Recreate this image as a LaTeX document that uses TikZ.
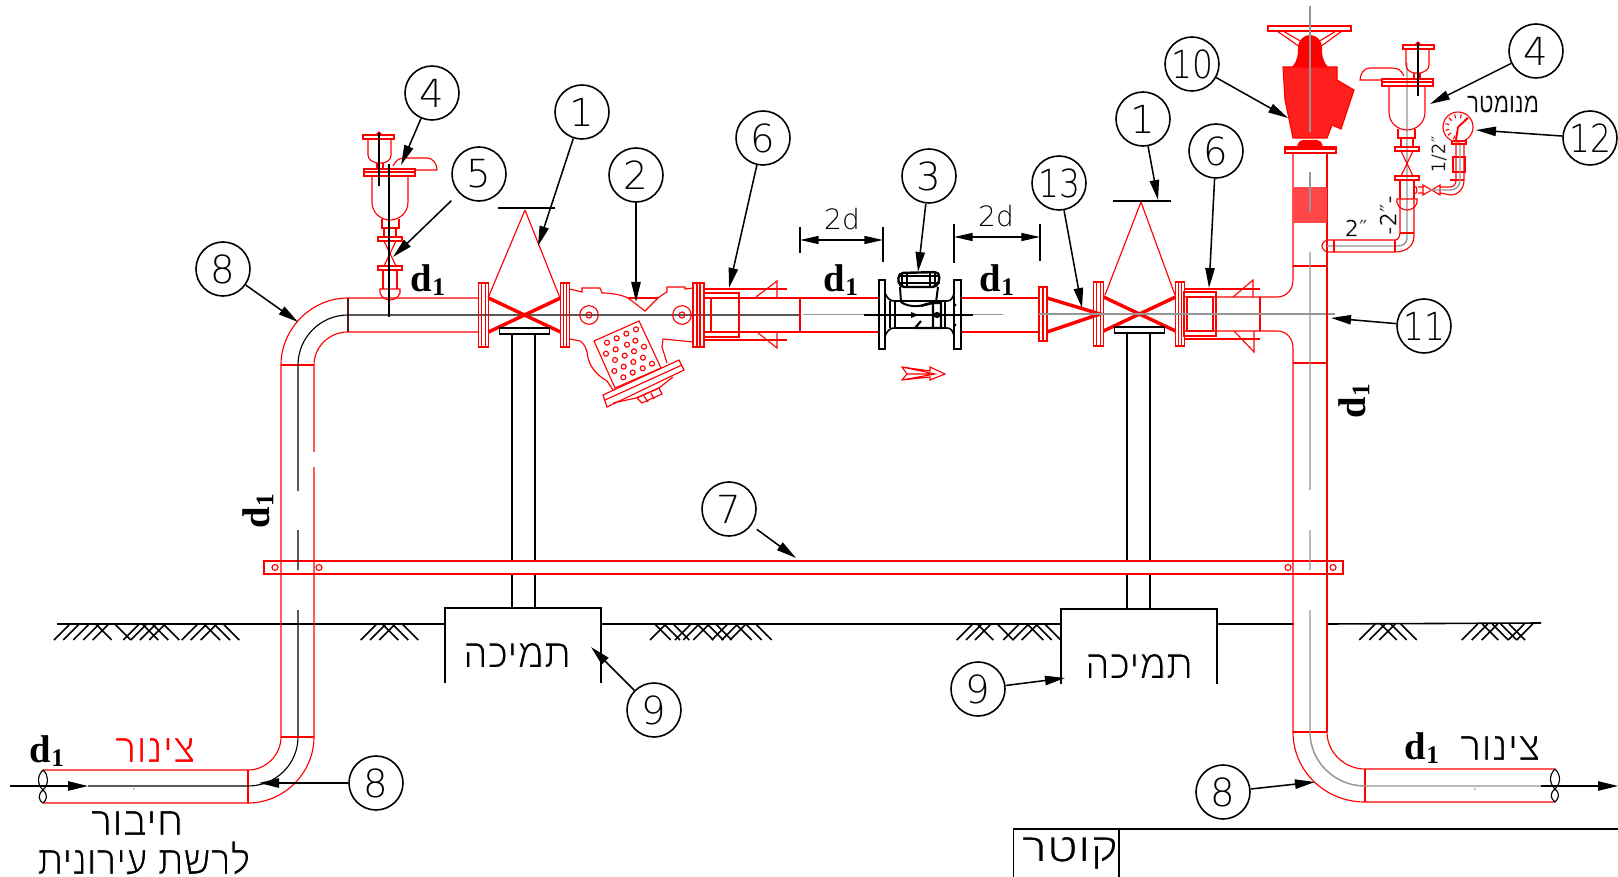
\documentclass[tikz,border=0pt]{standalone}
\usepackage{graphicx}
\usepackage{fontspec}
\usetikzlibrary{arrows.meta}
\TeXXeTstate=1
\setmainfont{Liberation Sans}
\newfontfamily\cadf[UprightFont=* ExtraLight]{DejaVu Sans}
\newfontfamily\primef{DejaVu Sans}
\newfontfamily\hebf[Script=Hebrew]{Liberation Sans}
\newfontfamily\dfont[UprightFont=* Bold]{Liberation Serif}
\newcommand\hebtext[3]{\scalebox{#2}[1]{\special{pdf:code q 2 Tr 1 1 1 RG 0.75 w}{\fontsize{#1}{#1}\hebf #3}\special{pdf:code Q}}}
\newcommand\hebsmall[3]{\scalebox{#2}[1]{\special{pdf:code q 2 Tr 1 1 1 RG 0.25 w}{\fontsize{#1}{#1}\hebf #3}\special{pdf:code Q}}}
\newcommand\sizetext[2]{\special{pdf:code q 2 Tr 1 1 1 RG 0.25 w}{\fontsize{#1}{#1}\primef #2}\special{pdf:code Q}}
\newcommand\dlabel{{\fontsize{29}{29}\dfont d\raisebox{-3pt}{\fontsize{19}{19}\selectfont 1}}}
\newcommand\ghatch[3]{%
  \foreach \z in {#2} {\draw[bk] ({#1+\z/3+16},624)--({#1+\z/3},640);}
  \foreach \z in {#3} {\draw[bk] ({#1+\z/3-16},624)--({#1+\z/3},640);}
}
\definecolor{rdc}{RGB}{255,0,0}
\definecolor{gyc}{RGB}{150,150,150}
\definecolor{weldc}{RGB}{90,25,25}
\tikzset{
  rd/.style={draw=rdc,line width=0.85pt},
  rdt/.style={draw=rdc,line width=2.6pt},
  bk/.style={draw=black,line width=1.2pt},
  thinb/.style={draw=black,line width=0.85pt},
  gy/.style={draw=gyc,line width=1.1pt},
  lead/.style={draw=black,line width=1.15pt,-{Triangle[length=15pt,width=7pt]}},
  dima/.style={draw=black,line width=1.1pt,{Triangle[length=14pt,width=6pt]}-{Triangle[length=14pt,width=6pt]}},
  numc/.style={circle,draw=black,line width=1.2pt,minimum size=40.5pt,inner sep=0pt,font=\fontsize{29}{29}\cadf},
  cadt/.style={inner sep=0pt,font=\cadf},
  airvalve/.pic={
    \draw[rd] (-27,-34) rectangle (4,-30);
    \draw[rd] (-14,-34) -- (-11,-37) -- (-8,-34);
    \draw[rd] (-22,-30) -- (-22,-14) .. controls (-22,-9) and (-17,-7) .. (-13,-6) -- (-7,-6) .. controls (-3,-7) and (1,-9) .. (1,-14) -- (1,-30);
    \draw[rd] (-13,-6) -- (-13,0) (-7,-6) -- (-7,0);
    \draw[rd] (-26,0) rectangle (25,7) (-26,3) -- (25,3);
    \draw[rd] (3,-3) .. controls (6,-9) and (9,-11) .. (15,-11) -- (37,-11) .. controls (43,-11) and (47,-5) .. (47,1) -- (25,1);
    \draw[rd] (-18,7) -- (-18,33) .. controls (-18,45) and (-8,51) .. (0,51) .. controls (8,51) and (18,45) .. (18,33) -- (18,7);
    \draw[rd] (-8,50) -- (-8,59) -- (9,59) -- (9,50);
    \draw[rd] (-6,59) -- (-6,68) (6,59) -- (6,68);
    \draw[rd] (-12,68) rectangle (12,72);
    \draw[rd] (-6,72) -- (6,97) (6,72) -- (-6,97);
    \draw[rd] (-12,97) rectangle (12,101);
    \draw[rd] (-7,101) -- (-7,120) (7,101) -- (7,120);
    \draw[rd] (-10,120) -- (10,120) -- (10,124) .. controls (8,129) and (4,131) .. (0,131) .. controls (-4,131) and (-8,129) .. (-10,124) -- cycle;
    \draw[thinb] (-11,-36) -- (-11,17);
  },
  gatevalve/.pic={
    \draw[rd] (-46,-32) rectangle (-36,32) (-43,-32) -- (-43,32) (-39,-32) -- (-39,32);
    \draw[rd] (36,-32) rectangle (45,32) (39,-32) -- (39,32) (42,-32) -- (42,32);
    \draw[rdt] (-36,-17) -- (36,17) (-36,17) -- (36,-17);
    \draw[bk] (-25,13) rectangle (25,19);
  }
}
\begin{document}
\begin{tikzpicture}[x=0.75pt,y=-0.75pt]
\useasboundingbox (0,0) rectangle (1618,877);
\fill[white] (0,0) rectangle (1618,877);

% free ends of the leaders and dimension lines
\foreach \n/\px/\py in {t4a/401/165,t1a/538/246,t5/393/257,t2/636/302,t6a/729/288,t8a/298/322,t3/918/272,t13/1082/308,t1b/1158/200,t6b/1209/288,t10/1288/118,t4b/1430/104,t12/1476/130,t11/1331/318,t7/796/558,t9a/591/647,t9b/1065/678,t8b/259/783,t8c/1315/782,inl/10/786,inr/88/786,outl/1541/786,outr/1618/786,dal/800/240,dar/883/240,dbl/954/237,dbr/1040/237}
  {\coordinate (\n) at (\px,\py);}

% ground
\draw[bk] (57,624) -- (445,624) (601,624) -- (1061,624) (1217,624) -- (1294,624) (1327,624) -- (1541,623);
\ghatch{40}{42,70,100,130,158,250,272,300,328,425,452,482}{215,272,355,385,418,540,570,598}
\ghatch{40}{962,990,1018}{1075,1105,1135}
\ghatch{640}{30,105,130,160,215,245,270}{92,120,148,220,250,275,335,365,395}
\ghatch{640}{950,978,1005,1090,1118,1145}{1060,1120,1210,1235,1262}
\ghatch{1350}{28,58,88,335,365,395,475,500}{140,170,200,445,475,500,525}

% supports
\draw[bk] (512,334) -- (512,608) (535,334) -- (535,608);
\draw[bk] (1127,333) -- (1127,609) (1150,333) -- (1150,609);
\draw[bk] (445,683) -- (445,608) -- (601,608) -- (601,683);
\draw[bk] (1061,684) -- (1061,609) -- (1217,609) -- (1217,684);
\node[inner sep=0pt] (box1) at (517,655) {\hebtext{31}{0.94}{\beginR תמיכה\endR}};
\node[inner sep=0pt] (box2) at (1139,666) {\hebtext{31}{0.94}{\beginR תמיכה\endR}};

% band
\draw[rd,fill=white] (264,561) rectangle (1343,574);
\foreach \hx in {275,319,1288,1333} {\draw[rd] (\hx,567.5) circle (3);}

% left pipe
\draw[rd] (281,737) -- (281,365) .. controls (281,329) and (311,298) .. (348,298) -- (478,298);
\draw[rd] (314,737) -- (314,467) (314,452) -- (314,365) .. controls (314,347) and (329,332) .. (348,332) -- (478,332);
\draw[rd] (281,365) -- (314,365);
\draw[draw=weldc,line width=1.1pt] (348,298) -- (348,332);
\draw[thinb] (298,737) -- (298,610) (298,570) -- (298,530) (298,491) -- (298,365) .. controls (298,338) and (320,315) .. (348,315) -- (800,315);
% bottom left
\draw[rd] (281,737) .. controls (281,755) and (266,770) .. (248,770) -- (43,770);
\draw[rd] (314,737) .. controls (314,773) and (284,803) .. (248,803) -- (43,803);
\draw[rd] (281,737) -- (314,737);
\draw[rd] (248,770) -- (248,803);
\draw[thinb] (298,737) .. controls (298,764) and (276,786) .. (248,786) -- (88,786);
\draw[thinb] (43,770) .. controls (37,776) and (37,784) .. (43,790) .. controls (49,795) and (46,801) .. (43,803);
\draw[thinb] (43,770) .. controls (49,775) and (49,784) .. (43,790) .. controls (37,795) and (39,801) .. (43,803);
\draw[lead] (inl) -- (inr);
\fill (134,789) circle (0.6);

% left air valve
\pic (valveA) at (390,169) {airvalve};
\draw[thinb] (389,164) -- (389,317);

% gate valves
\pic (gateA) at (524.5,315) {gatevalve};
\pic (gateB) at (1139.5,314) {gatevalve};
\draw[rd] (525,210) -- (488,298) (525,210) -- (560,298);
\draw[draw=black,line width=2.2pt] (498,208) -- (555,208);
\draw[rd] (1141,202) -- (1105,295) (1141,202) -- (1175,295);
\draw[draw=black,line width=2.2pt] (1113,201) -- (1171,201);

% strainer
\draw[rd] (570,289) -- (582,292) -- (582,288) -- (600,288) -- (602,293) .. controls (612,293) and (622,295) .. (628,298) -- (645,311) -- (658,298) .. controls (662,295) and (665,293) .. (667,292) -- (667,287) -- (685,287) -- (685,289) -- (693,288);
\draw[rd] (628,298) -- (658,298);
\draw[rd] (570,339) -- (580,341) .. controls (586,345) and (586,350) .. (587,352) .. controls (588,362) and (592,372) .. (607,381) -- (613,390);
\draw[rd] (693,342) -- (663,339) -- (662,347) -- (667,363);
\draw[rd] (693,283) rectangle (704,347) (697,283) -- (697,347) (700,283) -- (700,347);
\foreach \cx in {589,682} {\draw[rd] (\cx,315) circle (9.3) (\cx,315) circle (3);}
\draw[rd] (594,341) -- (639,321) -- (661,368) -- (615,388) -- cycle;
\foreach \zx/\zy in {831/848,860/835,889/821,918/808,828/881,857/868,891/854,916/842,942/860,855/900,884/887,912/874,939/893,853/933,881/920,910/906,938/925,966/911,880/952,908/938}
  {\draw[rd] ({330+\zx/3},{60+\zy/3}) circle (2.5);}
\draw[rd] (603,395) -- (679,360) -- (684,370) -- (607,407) -- cycle (605,400) -- (682,365);
\draw[rd] (613,403) -- (636,398) -- (659,388) -- (673,377);
\draw[rd] (637,398) -- (659,388) -- (662,394) -- (642,403) -- cycle (644,396) -- (648,402) (651,393) -- (654,399);

% first joint
\draw[rd] (704,293) rectangle (739,337) (711,298) rectangle (739,332);
\draw[rd] (704,289) -- (787,289) (704,340) -- (787,340);
\draw[rd] (704,298) -- (800,298) (704,332) -- (800,332);
\draw[rd] (756,297) -- (777,281) -- (777,297) (757,332) -- (777,348) -- (777,332);
\draw[rd,line width=1.3pt] (800,298) -- (800,332);

% meter
\draw[rd] (800,298) -- (879,298) (800,332) -- (879,332);
\draw[rd] (961,298) -- (1038,298) (961,332) -- (1038,332);
\draw[gy] (803,314.5) -- (864,314.5) (973,314.5) -- (1003,314.5);
\draw[draw=black,line width=1.5pt,fill=white] (879,280) rectangle (885,349) (954,280) rectangle (961,349);
\draw[bk] (885,293) .. controls (887,298) and (890,301) .. (894,301) -- (947,301) .. controls (951,301) and (953,298) .. (954,293);
\draw[bk] (885,336) .. controls (887,331) and (890,328) .. (894,328) -- (947,328) .. controls (951,328) and (953,331) .. (954,336);
\draw[bk] (890,301) -- (890,328) (895,301) -- (895,328) (941,301) -- (941,328) (945,301) -- (945,328);
\draw[draw=black,line width=1.8pt,rounded corners=4pt] (899,287) -- (898,273) -- (940,272) -- (938,287) -- cycle;
\draw[bk] (902,273) -- (902,287) (907,273) -- (907,287) (930,273) -- (930,287) (935,273) -- (935,287) (898,276) -- (940,276) (898,283) -- (940,283);
\draw[draw=black,line width=1.5pt] (900,287) -- (901,302) .. controls (906,306) and (918,308) .. (926,304) -- (936,302) -- (938,287);
\draw[thinb] (864,315) -- (973,315);
\draw[draw=black,line width=2pt,-{Triangle[length=6pt,width=4pt]}] (900,315) -- (919,315);
\draw[draw=black,line width=1.6pt] (921,306) -- (933,303) -- (933,328) -- (915,328) (933,303) -- (941,303) -- (941,328) -- (933,328) (921,321) -- (915,328) (937,315) circle (2);
\fill (955,305) circle (1.5) (955,325) circle (1.5);

% flow arrow
\draw[rd] (902,367) -- (930,371) -- (930,367) -- (945,374) -- (930,380) -- (930,377) -- (902,380) -- (907,374) -- cycle (907,374) -- (930,374) (902,367) -- (935,374) -- (902,380);

% reducer
\draw[rd] (1039,287) rectangle (1047,341) (1043,287) -- (1043,341);
\draw[rdt] (1047,298) -- (1100,314) -- (1047,332);

% second joint
\draw[rd] (1184,292) rectangle (1216,336) (1187,297) rectangle (1213,331);
\draw[rd] (1184,289) -- (1260,289) (1184,339) -- (1260,339);
\draw[rd] (1233,297) -- (1253,280) -- (1253,297) (1234,331) -- (1254,352) -- (1254,331);
\draw[rd] (1260,297) -- (1260,331);
\draw[gy] (1039,314) -- (1335,314);

% right pipe
\draw[rd] (1184,297) -- (1277,297) .. controls (1287,297) and (1293,289) .. (1293,280) -- (1293,153);
\draw[rd] (1184,331) -- (1277,331) .. controls (1287,331) and (1293,339) .. (1293,348) -- (1293,732);
\draw[rd] (1327,153) -- (1327,732);
\draw[rd] (1293,266) -- (1327,266) (1293,363) -- (1327,363);
\draw[rd] (1293,732) .. controls (1293,771) and (1325,802) .. (1365,802) -- (1555,802);
\draw[rd] (1327,732) .. controls (1327,752) and (1344,769) .. (1365,769) -- (1555,769);
\draw[rd] (1293,732) -- (1327,732) (1365,769) -- (1365,802);
\draw[gy] (1310,252) -- (1310,490) (1310,530) -- (1310,570) (1310,610) -- (1310,732) .. controls (1310,762) and (1335,786) .. (1365,786) -- (1541,786);
\draw[thinb] (1555,769) .. controls (1549,775) and (1549,783) .. (1555,789) .. controls (1561,794) and (1558,799) .. (1555,802);
\draw[thinb] (1555,769) .. controls (1561,775) and (1561,783) .. (1555,789) .. controls (1549,794) and (1551,799) .. (1555,802);
\draw[lead] (outl) -- (outr);
\fill (1475,789) circle (0.6);

% item 10
\draw[rd] (1268,26) rectangle (1351,31);
\draw[rd] (1277,31) -- (1300,47) (1283,31) -- (1302,42) (1342,31) -- (1320,47) (1336,31) -- (1318,42);
\fill[rdc] (1292,67) .. controls (1298,60) and (1298,54) .. (1298,48) .. controls (1298,40) and (1304,35) .. (1310,35) .. controls (1316,35) and (1322,40) .. (1322,48) .. controls (1322,54) and (1322,60) .. (1328,67) -- cycle;
\fill[rdc!88!white] (1283,67) -- (1337,67) -- (1337,80) -- (1354,90) -- (1341,129) -- (1332,125) -- (1327,138) -- (1293,138) -- (1285,100) -- cycle;
\draw[rd] (1283,67) -- (1337,67) -- (1337,80) -- (1354,90) -- (1341,129) -- (1332,125) -- (1327,138) -- (1293,138) -- (1285,100) -- cycle;
\fill[rdc] (1297,147) .. controls (1298,142) and (1300,140) .. (1303,140) -- (1317,140) .. controls (1320,140) and (1322,142) .. (1323,147) -- cycle;
\draw[rd] (1285,147) rectangle (1336,153) (1285,149) -- (1336,149);
\fill[rdc!72!white] (1293,187) rectangle (1327,223);
\draw[gy] (1310,6) -- (1310,132) (1310,172) -- (1310,212);

% right air valve and its branch
\draw[gy] (1407,63) -- (1407,238) .. controls (1407,243) and (1403,246) .. (1398,246) -- (1327,246);
\pic[xscale=-1] (valveB) at (1407,79) {airvalve};
\draw[rd] (1400,200) -- (1400,232) .. controls (1400,237) and (1398,240) .. (1395,240) -- (1329,240) .. controls (1325,240) and (1322,243) .. (1322,246) .. controls (1322,249) and (1325,252) .. (1329,252) -- (1395,252) .. controls (1406,252) and (1414,246) .. (1414,236) -- (1414,200);
\draw[rd] (1400,233) -- (1414,233) (1334,240) -- (1334,252) (1395,240) -- (1395,252);
\draw[rd] (1414,186) .. controls (1418,186) and (1418,194) .. (1414,194) (1418,187) -- (1423,187) (1418,193) -- (1423,193);
\draw[rd] (1423,185) -- (1440,195) -- (1440,185) -- (1423,195) -- cycle;
\draw[rd] (1440,187) -- (1450,187) .. controls (1454,187) and (1456,184) .. (1456,180) -- (1456,144);
\draw[rd] (1440,193) -- (1451,195) .. controls (1458,195) and (1464,189) .. (1464,180) -- (1464,144);
\draw[rd] (1453,157) rectangle (1465,172) (1450,180) -- (1464,180);
\draw[gy] (1430,190) -- (1450,190) .. controls (1456,190) and (1460,186) .. (1460,180) -- (1460,144);
\draw[rd] (1452,141) rectangle (1466,144);
\draw[rd] (1458,127) circle (15);
\foreach \a in {110,140,165,195,225,255,285,315} {\draw[rd] (1458,127) ++(\a:9) -- ++(\a:4);}
\draw[draw=rdc,line width=1.4pt] (1458,127) -- (1468,118) (1458,127) -- (1456,140);

% dimensions
\draw[thinb] (800,227) -- (800,253) (883,227) -- (883,262) (954,224) -- (954,263) (1040,224) -- (1040,261);
\draw[dima] (dal) -- (dar);
\draw[dima] (dbl) -- (dbr);
\node[cadt,font=\fontsize{21}{21}\cadf] (dimA) at (842,219) {2d};
\node[cadt,font=\fontsize{21}{21}\cadf] (dimB) at (996,216) {2d};

% title block
\draw[bk] (1013.5,877) -- (1013.5,829) -- (1618,829) (1119,829) -- (1119,877);
\node[inner sep=0pt] (kotr) at (1070,853) {\hebtext{31}{1.15}{\beginR קוטר\endR}};

% pipe and size labels
\node[inner sep=0pt] (da) at (428,280) {\dlabel};
\node[inner sep=0pt] (db) at (841,280) {\dlabel};
\node[inner sep=0pt] (dc) at (997,280) {\dlabel};
\node[inner sep=0pt,rotate=90] (dd) at (258,511) {\dlabel};
\node[inner sep=0pt,rotate=90] (de) at (1354,401) {\dlabel};
\node[inner sep=0pt] (df) at (47,751) {\dlabel};
\node[inner sep=0pt] (dg) at (1422,748) {\dlabel};
\node[inner sep=0pt,text=rdc] (pipeL) at (155,750) {\hebtext{31}{0.98}{\beginR צינור\endR}};
\node[inner sep=0pt] (pipeR) at (1500,748) {\hebtext{31}{0.98}{\beginR צינור\endR}};
\node[inner sep=0pt] (joinA) at (137,823) {\hebtext{31}{0.98}{\beginR חיבור\endR}};
\node[inner sep=0pt] (joinB) at (144,858) {\hebtext{31}{0.9}{\beginR לרשת עירונית\endR}};
\node[inner sep=0pt] (mano) at (1503,104) {\hebsmall{21}{0.8}{\beginR מנומטר\endR}};
\node[inner sep=0pt] (s2a) at (1356,228) {\sizetext{17}{2″}};
\node[inner sep=0pt,rotate=90] (s2b) at (1388,215) {\sizetext{17}{-2″-}};
\node[inner sep=0pt,rotate=90] (s12) at (1439,154) {\sizetext{14}{1/2″}};

% numbered circles
\node[numc] (c4a) at (432,93) {4};
\node[numc] (c1a) at (582,112) {1};
\node[numc] (c5) at (479,174) {5};
\node[numc] (c2) at (636,175) {2};
\node[numc] (c6a) at (763,138) {6};
\node[numc] (c8a) at (223,269) {8};
\node[numc] (c3) at (929,176) {3};
\node[numc] (c13) at (1059,183) {\scalebox{0.85}[1]{13}};
\node[numc] (c1b) at (1143,119) {1};
\node[numc] (c6b) at (1216,151) {6};
\node[numc] (c10) at (1192,64) {\scalebox{0.85}[1]{10}};
\node[numc] (c4b) at (1536,51) {4};
\node[numc] (c12) at (1590,138) {\scalebox{0.85}[1]{12}};
\node[numc] (c11) at (1424,326) {\scalebox{0.85}[1]{11}};
\node[numc] (c7) at (729,509) {7};
\node[numc] (c9a) at (654,710) {9};
\node[numc] (c9b) at (978,689) {9};
\node[numc] (c8b) at (376,783) {8};
\node[numc] (c8c) at (1223,792) {8};

% leaders
\draw[lead] (c4a) -- (t4a);
\draw[lead] (c1a) -- (t1a);
\draw[lead,shorten <=8pt] (c5) -- (t5);
\draw[lead] (c2) -- (t2);
\draw[lead] (c6a) -- (t6a);
\draw[lead] (c8a) -- (t8a);
\draw[lead] (c3) -- (t3);
\draw[lead] (c13) -- (t13);
\draw[lead] (c1b) -- (t1b);
\draw[lead] (c6b) -- (t6b);
\draw[lead] (c10) -- (t10);
\draw[lead] (c4b) -- (t4b);
\draw[lead] (c12) -- (t12);
\draw[lead] (c11) -- (t11);
\draw[lead,shorten <=5pt] (c7) -- (t7);
\draw[lead] (c9a) -- (t9a);
\draw[lead] (c9b) -- (t9b);
\draw[lead] (c8b) -- (t8b);
\draw[lead] (c8c) -- (t8c);
\end{tikzpicture}
\end{document}
